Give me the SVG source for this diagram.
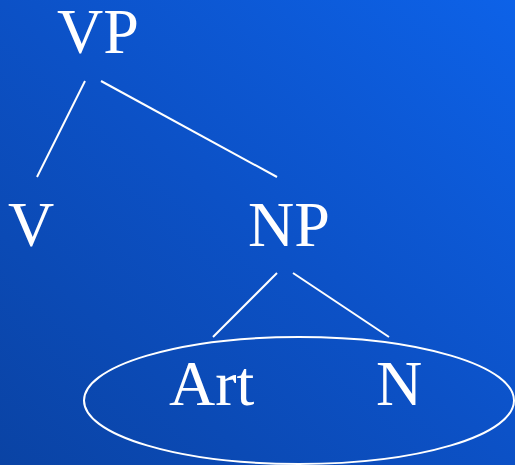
<svg xmlns="http://www.w3.org/2000/svg" width="515" height="465" viewBox="0 0 515 465">
  <defs>
    <linearGradient id="bg" x1="0" y1="1" x2="1" y2="0">
      <stop offset="0" stop-color="#0a43a4"/>
      <stop offset="0.5" stop-color="#0c51c6"/>
      <stop offset="1" stop-color="#0d62e8"/>
    </linearGradient>
  </defs>
  <style>
    .lbl { font-family: "Liberation Serif", "Times New Roman", serif; font-size: 64px; fill: #ffffff; }
    .edge { stroke: #ffffff; stroke-width: 2; fill: none; }
  </style>
  <rect x="0" y="0" width="515" height="465" fill="url(#bg)"/>

  <g id="connectors">
    <line class="edge" x1="85" y1="81" x2="37" y2="177"/>
    <line class="edge" x1="101" y1="81" x2="277" y2="177"/>
    <line class="edge" x1="277" y1="273" x2="213" y2="337"/>
    <line class="edge" x1="293" y1="273" x2="389" y2="337"/>
  </g>

  <g id="node-vp"><text class="lbl" x="57" y="53">VP</text></g>
  <g id="node-v"><text class="lbl" x="8" y="246">V</text></g>
  <g id="node-np"><text class="lbl" x="248" y="246">NP</text></g>
  <g id="node-group"><ellipse class="edge" cx="299" cy="400.5" rx="215" ry="63.5"/></g>
  <g id="node-art"><text class="lbl" x="169" y="405">Art</text></g>
  <g id="node-n"><text class="lbl" x="376" y="405">N</text></g>
</svg>
